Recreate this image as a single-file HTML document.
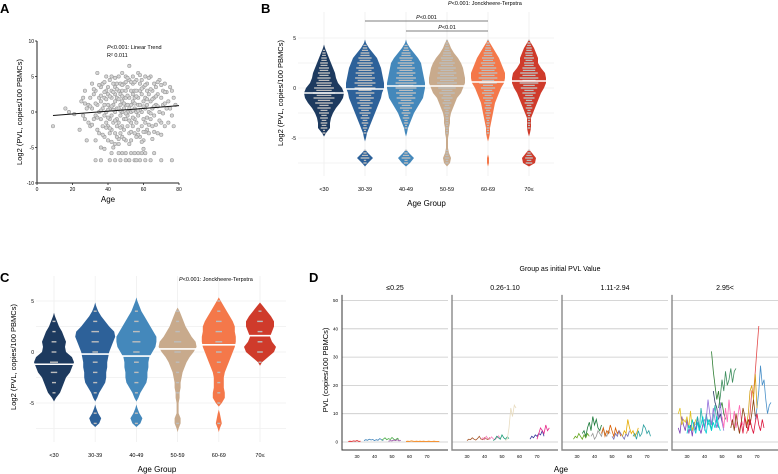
<!DOCTYPE html>
<html><head><meta charset="utf-8"><style>
html,body{margin:0;padding:0;background:#fff}
svg{display:block;font-family:"Liberation Sans",sans-serif}
</style></head><body>
<svg id="fig" width="778" height="474" viewBox="0 0 778 474">
<g id="A"></g>
<g id="B"></g>
<g id="C"></g>
<g id="D"></g>
</svg>
<script>
// ---------- DATA ----------
const scatterPoints = [[9,-2],[16,0.5],[18,0],[21,-0.3],[24,-2.5],[25,1.5],[26,2],[27,-1],[27,3],[28,0.5],[28,-4],[29,1],[30,2],[30,-2],[31,0.5],[31,4],[32,-1],[32,2.5],[33,-0.5],[33,3],[33,-4],[34,1],[34,-2.5],[34,5.5],[35,0],[35,2],[35,-3],[36,1.5],[36,-1],[36,3.5],[36,-5],[37,0.5],[37,4],[37,-2],[38,2],[38,-3.5],[38,1],[38,-0.5],[39,3],[39,-1.5],[39,5],[39,0],[40,2.5],[40,-4],[40,1],[40,3.5],[40,-2],[41,0.5],[41,4.5],[41,-1],[41,-3],[42,2],[42,-0.5],[42,3],[42,-2.5],[42,5],[43,1],[43,-1.5],[43,4],[43,-5],[44,0],[44,2.5],[44,-3],[44,3.5],[44,1.5],[45,0.5],[45,-2],[45,4],[45,-1],[45,2],[46,-4.5],[46,3],[46,0.5],[46,-1.5],[46,5],[47,1],[47,-3],[47,2.5],[47,-0.5],[47,4],[48,-2],[48,0],[48,3],[48,1.5],[48,-3.5],[48,5.5],[49,-1],[49,2],[49,4],[49,0.5],[49,-2.5],[50,1],[50,3],[50,-1],[50,5],[50,-4],[50,2],[51,0],[51,-2],[51,3.5],[51,1],[51,-0.5],[52,4.5],[52,-3],[52,2],[52,0.5],[52,6.5],[53,-1.5],[53,3],[53,1],[53,-4],[53,0],[54,2.5],[54,4],[54,-2],[54,1.5],[54,5],[55,-1],[55,3],[55,0.5],[55,-3],[55,2],[56,4.5],[56,0],[56,-1.5],[56,3],[57,1],[57,-2.5],[57,5.5],[57,2],[57,-0.5],[58,4],[58,-3.5],[58,1],[58,3],[59,0],[59,-2],[59,2.5],[59,4.5],[60,-1],[60,1.5],[60,3.5],[60,-4],[61,0.5],[61,2],[61,5],[61,-1.5],[62,3],[62,1],[62,-2.5],[62,4],[63,0],[63,2.5],[63,-3],[64,1.5],[64,5],[64,-1],[65,3],[65,0.5],[65,-2],[66,4],[66,2],[66,-0.5],[67,3.5],[67,1],[68,-3],[68,2.5],[69,0],[69,4.5],[70,-1.5],[70,2],[71,1],[71,3],[72,-2],[72,4],[73,0.5],[74,1.5],[75,3.5],[76,-0.5],[77,2],[78,1],
[30,0.8],[31,-1.8],[32,3.2],[33,1.2],[34,-0.8],[35,3.8],[36,0.2],[37,-3.2],[38,2.8],[39,-2.2],[40,0.3],[41,2.2],[42,-4.2],[43,2.8],[44,-1.2],[45,3.2],[46,1.8],[47,-2.2],[48,3.8],[49,1.2],[50,-0.2],[51,2.3],[52,-1.2],[53,4.2],[54,-0.8],[55,1.2],[56,2.2],[57,-3.2],[58,0.3],[59,3.3],[60,0.8],[61,-2.8],[62,1.8],[63,4.8],[64,-0.2],[65,1.8],[66,-2.8],[67,2.2],[68,0.8],[69,-1.2],[70,3.8],[71,-0.2],[72,1.2],[73,2.8],[74,-1.5],[75,0.5],[76,3],[77,-2],[44,4.8],[46,-3.8],[48,2.2],[50,4.2],[52,-4.5],[54,0.2],[56,-3.5],[58,5.2],[60,-2.8],[62,-0.8],[64,3.2],[66,0.8],[68,4.2],[70,-3.2],[72,2.8],[47,0.2],[49,-3.8],[51,4.8],[53,-2.8],[55,4.2],[57,0.2],[59,-4.2],[61,3.8],[63,-1.8],[65,-3.8],[67,-1.8],[36,2.3],[38,4.2],[40,-0.8],[42,0.8],[44,-4.5],[39,1.8],[41,-2.3],[43,0.3],[45,-3.5],[29,-1.5],[27,1.2],[26,-0.5],
[33,-6.8],[36,-6.8],[41,-6.8],[44,-6.8],[47,-6.8],[52,-6.8],[55,-6.8],[58,-6.8],[61,-6.8],[64,-6.8],[70,-6.8],[76,-6.8],[56,-6.8],[50,-6.8],[46,-5.8],[48,-5.8],[50,-5.8],[53,-5.8],[55,-5.8],[57,-5.8],[59,-5.8],[61,-5.8],[66,-5.8],[42,-5.8],[38,-5.2],[60,-5.2]];
const trendLine = [[9,-0.5],[80,0.9]];

const groups = ["<30","30-39","40-49","50-59","60-69","70≤"];
const groupsC = ["<30","30-39","40-49","50-59","60-69","70≤"];
const violinLevels = [-8,-7.5,-7,-6.5,-6,-5.5,-5,-4.5,-4,-3.5,-3,-2.5,-2,-1.5,-1,-0.5,0,0.5,1,1.5,2,2.5,3,3.5,4,4.5,5,5.5];
const bWidths = [
 [0,0,0,0,0,0,0,2,6,6,7,9,12,16,19,20,18,14,12,11,9,7,5,3,1,0,0,0],
 [0,3,8,3,0,0,1,2,4,6,8,10,12,14,16,17,19,19,18,17,16,14,12,8,4,1,0,0],
 [0,4,8,3,0,0,0,1,2,4,6,8,11,14,17,18,19,19,18,17,16,15,12,8,4,1,0,0],
 [0,3,4,2,1,1,1,2,2,3,3,4,6,8,10,14,16,18,18,17,16,14,11,7,4,2,0,0],
 [0,1,1,0,0,0,1,2,2,3,4,5,6,7,9,11,13,16,17,17,15,13,11,8,5,2,0,0],
 [0,6,7,3,0,0,0,1,2,2,2,4,6,8,10,12,15,17,17,16,12,9,9,7,5,2,0,0]];
const bMedians = [-0.5,-0.1,0.2,0.2,0.6,0.7];
const cWidths = [
 [0,0,0,0,0,0,0,2,6,8,10,12,16,18,20,18,12,11,12,10,8,5,3,1,0,0,0,0],
 [0,0,4,6,3,1,0,2,4,7,10,11,11,12,12,13,14,16,18,20,19,14,10,6,3,1,0,0],
 [0,0,4,6,3,1,0,2,4,7,10,11,11,12,12,13,16,19,20,20,17,14,11,8,5,3,1,0],
 [0,1,3,3,1,1,1,2,2,3,3,4,5,7,9,12,16,19,18,14,11,8,6,4,2,0,0,0],
 [0,1,3,2,1,0,3,6,6,5,5,5,6,8,10,12,14,16,17,17,16,16,14,11,8,5,2,0],
 [0,0,0,0,0,0,0,0,0,0,0,0,0,0,2,8,14,16,12,10,12,14,14,11,7,3,0,0]];
const cMedians = [-1.2,-0.2,-0.4,0.3,0.7,1.6];
const violinColors = ["#1d3a5f","#2d6199","#4488bb","#c8aa8c","#f4784a","#cf3b2b"];

const facetLabels = ["≤0.25","0.26-1.10","1.11-2.94","2.95<"];
const ageTicks = [30,40,50,60,70];
const pvlTicks = [0,10,20,30,40,50];
const seriesFacet = [0,0,0,0,0, 1,1,1,1,1,1, 2,2,2,2,2,2,2, 3,3,3,3,3,3,3,3,3,3,3,3,3,3];
const seriesStart = [25,34,44,48,58, 30,38,45,52,66,70, 28,33,38,44,50,56,62, 64,44,48,69,64,45,25,25,35,40,50,55,30,60];
const seriesValues = [
 [0.2,0.3,0.2,0.4,0.3,0.5,0.2,0.3],
 [0.5,0.8,0.6,1,0.7,0.9,0.5,0.8,0.6,1.2,0.8,0.5],
 [0.6,1,1.5,0.8,1.2,0.9,1.6,1,0.7,1.3,0.9],
 [0.3,0.5,0.4,0.7,0.5,0.8,0.4,0.6],
 [0.2,0.3,0.2,0.4,0.3,0.2,0.3,0.2,0.3,0.2,0.3,0.2,0.2,0.3,0.2,0.2,0.3,0.2,0.2,0.2],
 [0.5,1,0.8,1.5,1,0.7,1.2,2,1,0.8,1.5,1.1,0.9,1.6],
 [1,1.5,0.8,2,1.2,1,1.8,1.1,0.9,1.5,2.2,1.3],
 [0.5,1,2,1.5,1,2.5,1.5,1,1.8,1.2],
 [0.5,1,5,12,9,13,12],
 [1,2,1.5,2.5,2,3,2.5,4,2],
 [1,3,5,4,3,6,4,5],
 [1,2,1.5,3,2,1,2.5,1.5,3,2],
 [3,4,2,5,7,4,9,6,8,5,4,6],
 [2,3,1,2,4,3,2,5,3,2,4,3],
 [3,5,2,4,3,6,4,2,5,3,4,2],
 [2,1,3,2,4,3,2,1,3,2,4],
 [2,4,3,8,5,3,4,2,3,5],
 [2,3,1,4,2,3,6,5,3,4,2],
 [3,5,10,18,17,25,33,41],
 [32,25,20,15,18,12,14,10,8],
 [12,16,22,18,25,20,22,26,21,25,26],
 [8,12,18,27,20,22,15,10,13,14],
 [6,10,18,20,15,24,12],
 [18,14,12,8,10,7],
 [5,3,9,6,4,8,3,6,2,7,4,9,5,3,6,8],
 [10,12,6,8,7,9,5,11,4,6,8],
 [6,9,4,12,7,5,10,6,8,4,9,13,7,5],
 [4,8,15,10,6,12,8,5,9,14,7,4],
 [9,5,12,7,15,8,6,11,5,9,13,8,6],
 [5,8,4,10,6,3,7,12,9,5,8,6,10,15,9],
 [3,6,4,8,5,3,7,4,6,9,5,3,8,6,4,7,5,9,6,4],
 [4,7,3,9,6,4,8,5,3,7,10,6,4,8,5]];
const seriesColors = ["#e41a1c","#377eb8","#4daf4a","#984ea3","#ff7f00","#a65628","#f781bf","#1b9e77","#e8dcc0","#333399","#e7298a","#66a61e","#1b7a3a","#999999","#d95f02","#7570b3","#e6ab02","#2ca0a0","#e34a4a","#2e7d32","#3f8f5f","#4a90c8","#d4a017","#2b3a67","#7b3fb5","#e0c020","#20b2aa","#9370db","#ff69b4","#8b4513","#00ced1","#dc143c"];

// ---------- HELPERS ----------
const NS="http://www.w3.org/2000/svg";
function mk(parent,tag,attrs,text){const e=document.createElementNS(NS,tag);for(const k in attrs)e.setAttribute(k,attrs[k]);if(text!==undefined)e.textContent=text;parent.appendChild(e);return e;}

// ---------- PANEL A ----------
const A=document.getElementById('A');
const xA=a=>37+a*1.775, yA=v=>112-v*7.1;
let t=mk(A,'text',{x:0,y:13,'font-size':13,'font-weight':'bold'},'A');


scatterPoints.forEach(p=>{
  const c=mk(A,'circle',{cx:xA(p[0]),cy:yA(p[1]),r:1.7,fill:'#d4d4d4',stroke:'#9a9a9a','stroke-width':0.6});
  
  
});
let tl=mk(A,'line',{x1:xA(trendLine[0][0]),y1:yA(trendLine[0][1]),x2:xA(trendLine[1][0]),y2:yA(trendLine[1][1]),stroke:'#111','stroke-width':1});


let ax=mk(A,'path',{d:`M${xA(0)},${yA(10)}V${yA(-10)}H${xA(80)}`,fill:'none',stroke:'#222','stroke-width':1});


[10,5,0,-5,-10].forEach(v=>{mk(A,'line',{x1:xA(0)-2,x2:xA(0),y1:yA(v),y2:yA(v),stroke:'#222','stroke-width':0.8});
 const l=mk(A,'text',{x:xA(0)-3,y:yA(v)+2,'font-size':5,'text-anchor':'end'},v);
 
 });
[0,20,40,60,80].forEach(a=>{mk(A,'line',{x1:xA(a),x2:xA(a),y1:yA(-10),y2:yA(-10)+2,stroke:'#222','stroke-width':0.8});
 const l=mk(A,'text',{x:xA(a),y:yA(-10)+8,'font-size':5,'text-anchor':'middle'},a);
 
 });
t=mk(A,'text',{x:108,y:202,'font-size':8,'text-anchor':'middle'},'Age');


t=mk(A,'text',{x:0,y:0,'font-size':7.5,'text-anchor':'middle',transform:'translate(22,112) rotate(-90)'},'Log2 (PVL, copies/100 PBMCs)');


t=mk(A,'text',{x:107,y:49,'font-size':5.5},'');t.innerHTML='<tspan font-style="italic">P</tspan>&lt;0.001: Linear Trend';


t=mk(A,'text',{x:107,y:57,'font-size':5.5},'R² 0.011');



// ---------- VIOLIN PANEL ----------
function violinPanel(G,opt){
  const yv=v=>opt.y0-v*opt.k, xc=i=>opt.x0+i*opt.dx;
  let lbl=mk(G,'text',{x:opt.lx,y:opt.ly,'font-size':13,'font-weight':'bold'},opt.letter);
  
  
  [5,2.5,0,-2.5,-5,-7.5].forEach(v=>mk(G,'line',{x1:opt.px0,x2:opt.px1,y1:yv(v),y2:yv(v),stroke:'#efefef','stroke-width':0.8}));
  opt.cats.forEach((c,i)=>mk(G,'line',{x1:xc(i),x2:xc(i),y1:opt.py0,y2:opt.py1,stroke:'#efefef','stroke-width':0.8}));
  [5,0,-5].forEach(v=>{const l=mk(G,'text',{x:opt.px0-2,y:yv(v)+2,'font-size':5,'text-anchor':'end'},v);
    
    });
  opt.cats.forEach((c,i)=>{
    const w=opt.widths[i];
    // contiguous runs of non-zero width
    let runs=[],cur=null;
    w.forEach((ww,j)=>{if(ww>0){if(!cur){cur=[];runs.push(cur);}cur.push(j);}else cur=null;});
    runs.forEach(run=>{
      const top=violinLevels[run[run.length-1]]+0.35, bot=violinLevels[run[0]]-0.35;
      let L=[[xc(i),yv(bot)]],R=[];
      run.forEach(j=>{L.push([xc(i)-w[j],yv(violinLevels[j])]);R.push([xc(i)+w[j],yv(violinLevels[j])]);});
      L.push([xc(i),yv(top)]);
      const d='M'+L.map(p=>p.join(',')).join('L')+'L'+R.reverse().map(p=>p.join(',')).join('L')+'Z';
      const v=mk(G,'path',{d:d,fill:opt.colors[i],stroke:'none'});
      
      
    });
    violinLevels.forEach((lv,j)=>{ if(w[j]>=2 && j%opt.dotStep===0){
      const ww=Math.max(1.5,w[j]*opt.dotFrac);
      mk(G,'rect',{x:xc(i)-ww,y:yv(lv)-0.7,width:ww*2,height:1.4,fill:'#bdbdbd'});
      if(opt.dotStep===1) mk(G,'rect',{x:xc(i)-ww*0.7,y:yv(lv+0.25)-0.7,width:ww*1.4,height:1.2,fill:'#bdbdbd'});}});
    const md=mk(G,'line',{x1:xc(i)-21,x2:xc(i)+21,y1:yv(opt.medians[i]),y2:yv(opt.medians[i]),stroke:'#fff','stroke-width':1.6});
    
    
    const tx=mk(G,'text',{x:xc(i),y:opt.tickY,'font-size':5.5,'text-anchor':'middle'},c);
    
    
  });
  let at=mk(G,'text',{x:opt.x0+2.5*opt.dx,y:opt.tickY+15,'font-size':8,'text-anchor':'middle'},'Age Group');
  
  
  let yt=mk(G,'text',{x:0,y:0,'font-size':7.5,'text-anchor':'middle',transform:`translate(${opt.ylx},${opt.y0+5}) rotate(-90)`},'Log2 (PVL, copies/100 PBMCs)');
  
  
  let jt=mk(G,'text',{x:opt.jx,y:opt.jy,'font-size':5.5},'');jt.innerHTML='<tspan font-style="italic">P</tspan>&lt;0.001: Jonckheere-Terpstra';
  
  
  return {xc,yv};
}
const B=document.getElementById('B');
const bp=violinPanel(B,{letter:'B',lx:261,ly:13,y0:88,k:10,x0:324,dx:41,px0:298,px1:554,py0:12,py1:176,
  widths:bWidths,medians:bMedians,colors:violinColors,cats:groups,tickY:191,ylx:283,jx:448,jy:5,dotFrac:0.55,dotStep:1});
[[1,4,21,'P<0.001'],[2,4,31,'P<0.01']].forEach(b=>{
  const ln=mk(B,'line',{x1:bp.xc(b[0]),x2:bp.xc(b[1]),y1:b[2],y2:b[2],stroke:'#555','stroke-width':0.8});
  
  
  const tx=mk(B,'text',{x:(bp.xc(b[0])+bp.xc(b[1]))/2,y:b[2]-2,'font-size':5.5,'text-anchor':'middle'},'');
  tx.innerHTML='<tspan font-style="italic">P</tspan>'+b[3].slice(1).replace('<','&lt;');
  
  
});
const C=document.getElementById('C');
violinPanel(C,{letter:'C',lx:0,ly:282,y0:352,k:10.2,x0:54,dx:41.2,px0:36,px1:286,py0:276,py1:442,
  widths:cWidths,medians:cMedians,colors:violinColors,cats:groupsC,tickY:457,ylx:16,jx:179,jy:281,dotFrac:0.2,dotStep:2});

// ---------- PANEL D ----------
const D=document.getElementById('D');
const fx0=[342,452,562,672];
const xD=(f,a)=>fx0[f]+15+(a-30)*1.75, yD=v=>442-v*2.83;
t=mk(D,'text',{x:309,y:282,'font-size':13,'font-weight':'bold'},'D');


t=mk(D,'text',{x:560,y:271,'font-size':7,'text-anchor':'middle'},'Group as initial PVL Value');


facetLabels.forEach((fl,f)=>{
  const x0=fx0[f];
  pvlTicks.forEach(v=>mk(D,'line',{x1:x0,x2:x0+106,y1:yD(v),y2:yD(v),stroke:'#c8c8c8','stroke-width':0.8}));
  const ax=mk(D,'path',{d:`M${x0},${yD(52)}V450H${x0+106}`,fill:'none',stroke:f?'#888':'#333','stroke-width':f?1.4:1});
  
  
  const ft=mk(D,'text',{x:x0+53,y:290,'font-size':7,'text-anchor':'middle'},fl);
  
  
  ageTicks.forEach(a=>{const l=mk(D,'text',{x:xD(f,a),y:458,'font-size':4.5,'text-anchor':'middle'},a);
    
    });
});
pvlTicks.forEach(v=>{const l=mk(D,'text',{x:338,y:yD(v)+1.5,'font-size':4.5,'text-anchor':'end'},v);
  
  });
seriesValues.forEach((vals,s)=>{
  const f=seriesFacet[s];
  const pts=vals.map((v,i)=>xD(f,seriesStart[s]+i).toFixed(1)+','+yD(v).toFixed(1)).join(' ');
  const pl=mk(D,'polyline',{points:pts,fill:'none',stroke:seriesColors[s],'stroke-width':0.8});
  
  
});
t=mk(D,'text',{x:561,y:472,'font-size':8,'text-anchor':'middle'},'Age');


t=mk(D,'text',{x:0,y:0,'font-size':7.5,'text-anchor':'middle',transform:'translate(328,370) rotate(-90)'},'PVL (copies/100 PBMCs)');


</script>
</body></html>
